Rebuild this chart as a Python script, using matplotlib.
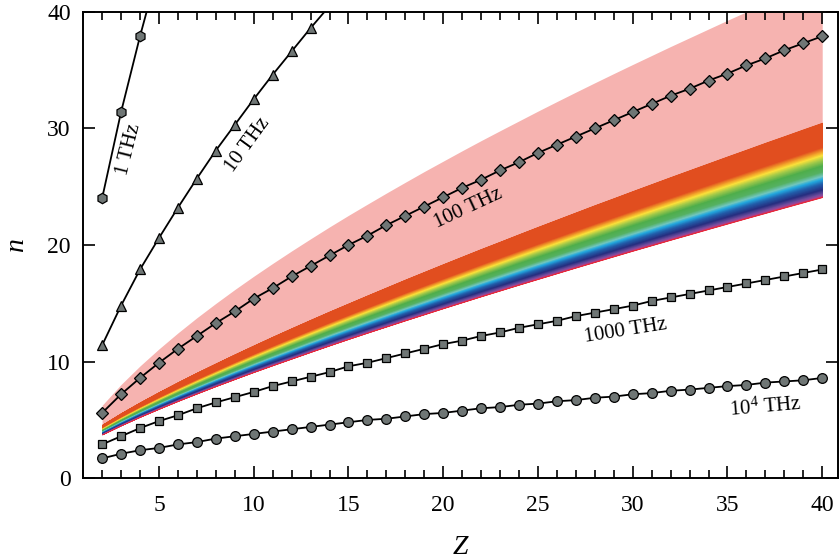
"""
Principal quantum number n vs nuclear charge Z for several transition frequencies
"""

import matplotlib
matplotlib.use("Agg")
import matplotlib.pyplot as plt
from matplotlib.colors import LinearSegmentedColormap
from matplotlib.ticker import MultipleLocator
import numpy as np

# ── data ─────────────────────────────────────────────────────────────────────
Z_ALL = list(range(2, 41))

n_1thz = [24.0, 31.4, 37.9, 43.9]
z_1thz = [2, 3, 4, 5]

z_10thz = list(range(2, 15))
n_10thz = [11.4, 14.8, 17.9, 20.6, 23.2, 25.7, 28.1, 30.3, 32.5, 34.6, 36.6,
           38.6, 40.5]

n_100thz = [5.6, 7.2, 8.6, 9.9, 11.1, 12.2, 13.3, 14.3, 15.4, 16.3, 17.3,
            18.2, 19.1, 20.0, 20.8, 21.7, 22.5, 23.3, 24.1, 24.9, 25.6, 26.4,
            27.1, 27.9, 28.6, 29.3, 30.0, 30.7, 31.4, 32.1, 32.8, 33.4, 34.1,
            34.7, 35.4, 36.0, 36.7, 37.3, 37.9]

n_1000thz = [2.9, 3.6, 4.3, 4.9, 5.4, 6.0, 6.5, 6.95, 7.4, 7.9, 8.3, 8.7,
             9.1, 9.6, 9.9, 10.3, 10.7, 11.1, 11.5, 11.8, 12.2, 12.5, 12.9,
             13.2, 13.5, 13.9, 14.2, 14.5, 14.8, 15.2, 15.5, 15.8, 16.1, 16.4,
             16.7, 17.0, 17.3, 17.6, 17.9]

n_1e4thz = [1.7, 2.1, 2.4, 2.6, 2.9, 3.1, 3.4, 3.6, 3.8, 4.0, 4.2, 4.4, 4.6,
            4.8, 5.0, 5.1, 5.3, 5.5, 5.6, 5.8, 6.0, 6.1, 6.3, 6.4, 6.6, 6.7,
            6.9, 7.0, 7.2, 7.3, 7.5, 7.6, 7.75, 7.9, 8.0, 8.2, 8.3, 8.4, 8.6]

# shaded bands (infrared pink, visible rainbow), one value per Z = 2..40
pink_top = [6.25, 8.04, 9.63, 11.09, 12.46, 13.76, 14.99, 16.18, 17.32, 18.42,
            19.49, 20.53, 21.55, 22.54, 23.50, 24.45, 25.38, 26.30, 27.19,
            28.08, 28.95, 29.80, 30.64, 31.48, 32.30, 33.11, 33.91, 34.70,
            35.48, 36.25, 37.02, 37.77, 38.52, 39.27, 40.00, 40.73, 41.45,
            42.16, 42.87]
vis_top  = [4.59, 5.59, 6.52, 7.40, 8.25, 9.07, 9.86, 10.64, 11.40, 12.15,
            12.88, 13.60, 14.31, 15.00, 15.69, 16.37, 17.05, 17.71, 18.37,
            19.02, 19.67, 20.30, 20.94, 21.57, 22.19, 22.81, 23.43, 24.03,
            24.64, 25.24, 25.84, 26.43, 27.02, 27.61, 28.19, 28.78, 29.35,
            29.93, 30.50]
vis_bot  = [3.75, 4.53, 5.26, 5.95, 6.62, 7.26, 7.89, 8.50, 9.10, 9.68,
            10.25, 10.82, 11.38, 11.93, 12.47, 13.00, 13.53, 14.05, 14.57,
            15.08, 15.59, 16.09, 16.59, 17.08, 17.57, 18.06, 18.54, 19.02,
            19.50, 19.97, 20.44, 20.90, 21.37, 21.83, 22.29, 22.74, 23.20,
            23.65, 24.10]

# ── style ─────────────────────────────────────────────────────────────────────
plt.rcParams["font.family"] = ["Liberation Serif", "DejaVu Serif"]
plt.rcParams["mathtext.fontset"] = "custom"
plt.rcParams["mathtext.rm"] = "Liberation Serif"
plt.rcParams["mathtext.it"] = "Liberation Serif:italic"

MFACE = "#6f7675"
PINK  = "#f6b3b0"
spectrum = LinearSegmentedColormap.from_list("spec", [
    (0.00, "#e14e1f"), (0.33, "#e14e1f"), (0.40, "#f5ae2c"),
    (0.44, "#fce23b"), (0.50, "#a3cb49"), (0.58, "#4fae4b"),
    (0.66, "#55b163"), (0.72, "#72c7c0"), (0.76, "#22a9e0"),
    (0.82, "#2161ad"), (0.90, "#262e80"), (0.955, "#6b4c9c"),
    (0.985, "#a2459a"), (1.00, "#e8283a")])

fig = plt.figure(figsize=(8.4, 5.6), dpi=100)
ax = fig.add_axes([0.099, 0.146, 0.899, 0.833])

zb = np.array(Z_ALL)
ptop = np.array(pink_top)
vtop = np.array(vis_top)
vbot = np.array(vis_bot)

ax.fill_between(zb, vtop, ptop, color=PINK, lw=0, zorder=1)
nstrip = 160
for i in range(nstrip):
    f0, f1 = i / nstrip, (i + 1) / nstrip
    c = spectrum((f0 + f1) / 2)
    ax.fill_between(zb, vtop - (vtop - vbot) * f0, vtop - (vtop - vbot) * f1,
                    color=c, lw=0.4, edgecolor=c, zorder=1)

kw = dict(color="black", lw=1.3, mfc=MFACE, mec="black", mew=0.9, zorder=3)
ax.plot(z_1thz, n_1thz, marker="h", ms=7.5, **kw)
ax.plot(z_10thz, n_10thz, marker="^", ms=7, **kw)
ax.plot(Z_ALL, n_100thz, marker="D", ms=6.3, **kw)
ax.plot(Z_ALL, n_1000thz, marker="s", ms=6, **kw)
ax.plot(Z_ALL, n_1e4thz, marker="o", ms=7, **kw)

lab = dict(fontsize=15, ha="center", va="center", rotation_mode="anchor", zorder=4)
ax.text(3.4, 28.2, "1 THz", rotation=76, **lab)
ax.text(9.7, 28.6, "10 THz", rotation=54, **lab)
ax.text(21.3, 23.1, "100 THz", rotation=25, **lab)
ax.text(29.6, 12.6, "1000 THz", rotation=9, **lab)
ax.text(37.0, 6.1, r"10$^4$ THz", rotation=5, **lab)

ax.set_xlim(1.0, 40.85)
ax.set_ylim(0, 40)
ax.xaxis.set_major_locator(MultipleLocator(5))
ax.xaxis.set_minor_locator(MultipleLocator(1))
ax.yaxis.set_major_locator(MultipleLocator(10))
ax.tick_params(which="both", direction="in", top=True, right=True, width=1.2)
ax.tick_params(which="major", length=8.5, labelsize=17)
ax.tick_params(which="minor", length=5.5)
ax.tick_params(axis="x", which="major", pad=12)
ax.tick_params(axis="y", which="major", pad=9)
for sp in ax.spines.values():
    sp.set_linewidth(1.4)

ax.set_xlabel("Z", fontsize=20, fontstyle="italic", labelpad=14)
ax.set_ylabel("n", fontsize=20, fontstyle="italic", labelpad=13)

fig.savefig("out.png", dpi=100)
